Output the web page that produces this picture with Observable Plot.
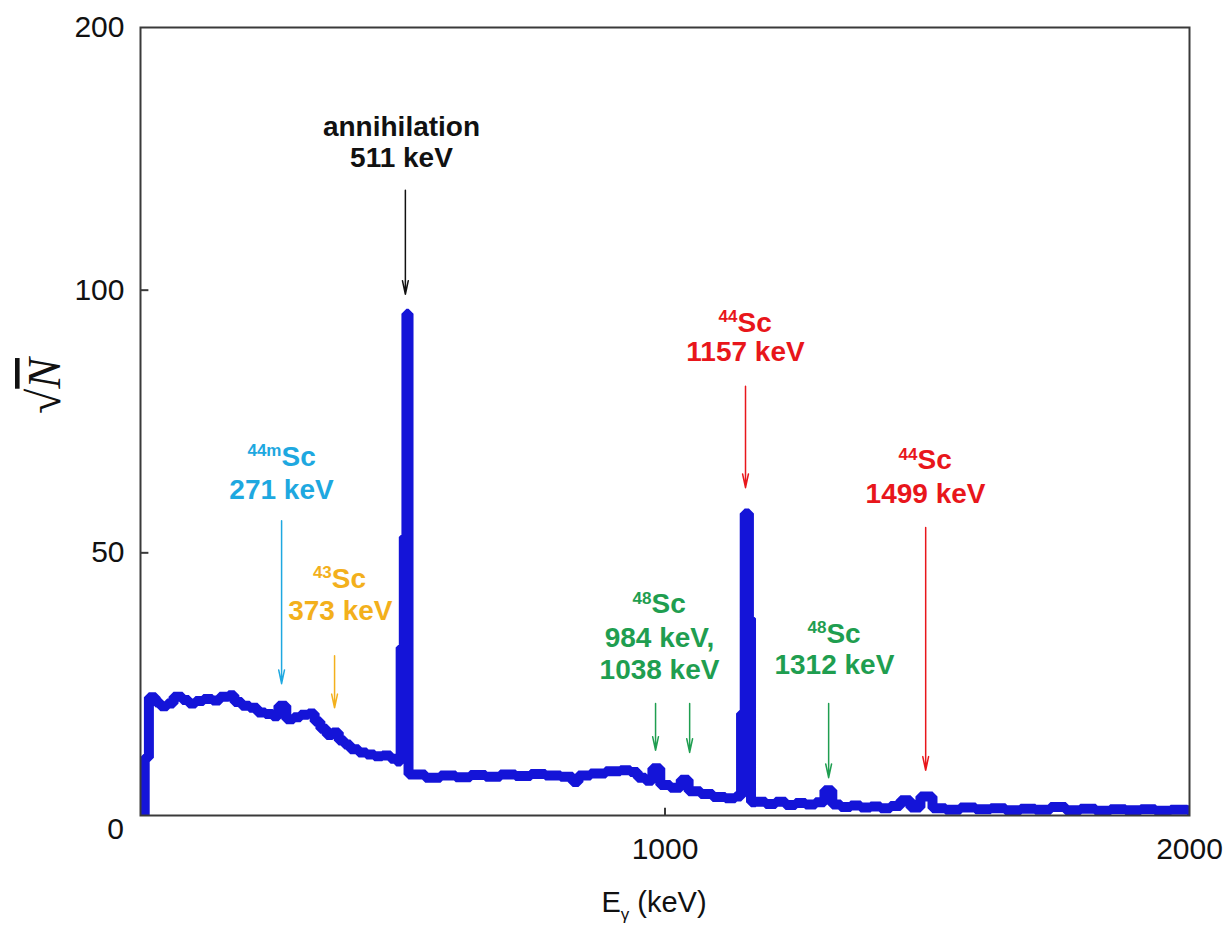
<!DOCTYPE html>
<html>
<head>
<meta charset="utf-8">
<script src="https://cdn.jsdelivr.net/npm/d3@7"></script>
<script src="https://cdn.jsdelivr.net/npm/@observablehq/plot@0.6"></script>
<style>
  body { margin: 0; background: #fff; }
</style>
</head>
<body>
<div id="chart"></div>
<script>
// ---- Spectrum (step breakpoints): gamma energy (keV) and sqrt(N) ----
const energyKeV = [0, 8, 16, 29, 38, 51, 63, 80, 92, 105, 120, 137, 151, 168, 179, 193, 208, 223, 238, 252,
  263, 278, 292, 305, 320, 332, 343, 355, 366, 378, 389, 400, 416, 431, 446, 461, 477, 488, 496, 502,
  507, 511, 543, 572, 601, 629, 658, 686, 715, 744, 772, 801, 824, 835, 858, 887, 915, 934, 948, 963,
  976, 991, 1010, 1030, 1045, 1068, 1091, 1115, 1134, 1145, 1152, 1160, 1164, 1173, 1192, 1211, 1230, 1249, 1268, 1287,
  1304, 1319, 1335, 1354, 1373, 1392, 1411, 1430, 1449, 1468, 1487, 1510, 1535, 1563, 1592, 1621, 1649, 1678, 1706, 1735,
  1764, 1792, 1821, 1849, 1878, 1907, 1935, 1964, 1996, 2000];
const sqrtCounts = [0, 11, 22.5, 21.5, 20.8, 21.3, 22.6, 22.0, 21.3, 21.8, 22.2, 21.9, 22.6, 22.9, 21.6, 20.9, 20.5, 19.6, 19.3, 18.9,
  20.9, 18.3, 18.7, 19.2, 19.4, 17.9, 16.5, 15.3, 15.8, 14.3, 13.5, 12.6, 12.0, 11.6, 11.3, 11.4, 10.8, 10.3, 32, 53,
  95.5, 7.8, 7.2, 7.6, 7.3, 7.7, 7.4, 7.8, 7.5, 7.9, 7.6, 7.4, 6.4, 7.6, 8.0, 8.4, 8.6, 8.3, 7.2, 6.6,
  9.0, 5.8, 5.3, 6.8, 4.6, 4.1, 3.5, 3.3, 3.6, 19.4, 57.5, 37.5, 2.5, 2.6, 2.2, 2.6, 2.0, 2.4, 2.1, 2.5,
  4.8, 2.1, 1.6, 1.9, 1.5, 1.7, 1.4, 1.8, 2.9, 1.5, 3.6, 1.4, 1.1, 1.5, 1.2, 1.4, 1.0, 1.3, 1.1, 1.6,
  1.0, 1.3, 0.9, 1.2, 1.0, 1.2, 0.9, 1.1, 1.0, 1.0];

// ---- Axes (the printed axis is compressed above 100: the top tick reads 200) ----
const xTicks = [1000, 2000];
const yTickPositions = [50, 100, 150];
const yTickLabels = ["50", "100", "200"];

// ---- Annotation arrows (keV, plotted height) ----
const arrowEnergy = [505, 1153.5, 269, 370, 982, 1047, 1312, 1497];
const arrowFrom   = [119.0, 81.7, 56.1, 30.4, 21.3, 21.3, 21.3, 54.8];
const arrowTo     = [99.2, 62.4, 25.1, 20.5, 12.4, 12.0, 7.2, 8.6];
const arrowGroup  = ["ann", "44Sc", "44mSc", "43Sc", "48Sc", "48Sc", "48Sc", "44Sc"];

// ---- Nuclide labels (mass number superscript + "Sc") ----
const nuclideMass   = ["44", "44m", "43", "48", "48", "44"];
const nuclideEnergy = [1153.5, 268.8, 380, 989.5, 1323, 1496.7];
const nuclideHeight = [93.8, 68.3, 45.1, 40.2, 34.6, 67.6];
const nuclideGroup  = ["44Sc", "44mSc", "43Sc", "48Sc", "48Sc", "44Sc"];

// ---- Text lines ----
const lineText   = ["annihilation", "511 keV", "1157 keV", "271 keV", "373 keV", "984 keV,", "1038 keV", "1312 keV", "1499 keV"];
const lineEnergy = [497.6, 497.6, 1153.5, 268.8, 381, 989.5, 989.5, 1323, 1496.7];
const lineHeight = [131.0, 125.1, 88.3, 61.9, 39.0, 33.7, 27.6, 28.6, 61.1];
const lineGroup  = ["ann", "ann", "44Sc", "44mSc", "43Sc", "48Sc", "48Sc", "48Sc", "44Sc"];

const groupColor = {ann: "#111111", "44Sc": "#e8161b", "44mSc": "#1ea8e0", "43Sc": "#f3b01c", "48Sc": "#1f9e50"};

const spectrum = energyKeV.map((e, i) => ({e, n: sqrtCounts[i]}));
const arrows = arrowEnergy.map((e, i) => ({e, from: arrowFrom[i], to: arrowTo[i], c: groupColor[arrowGroup[i]]}));
const nuclides = nuclideMass.map((m, i) => ({m, e: nuclideEnergy[i], h: nuclideHeight[i], c: groupColor[nuclideGroup[i]]}));
const lines = lineText.map((t, i) => ({t, e: lineEnergy[i], h: lineHeight[i], c: groupColor[lineGroup[i]]}));

const font = "'Liberation Sans', Arial, Helvetica, sans-serif";
const axisColor = "#3a3a3a";

const chart = Plot.plot({
  width: 1227,
  height: 925,
  marginLeft: 140,
  marginRight: 38,
  marginTop: 27,
  marginBottom: 110,
  style: {fontFamily: font, background: "white", color: "#111"},
  x: {domain: [0, 2000]},
  y: {domain: [0, 150]},
  marks: [
    Plot.line(spectrum, {x: "e", y: "n", curve: "step-after", stroke: "#1414d8", strokeWidth: 10,
      strokeLinejoin: "miter", strokeLinecap: "butt", clip: true}),
    Plot.frame({stroke: axisColor, strokeWidth: 2}),
    Plot.axisX({ticks: xTicks, tickSize: 0, tickPadding: 22, fontSize: 30, tickFormat: d => `${d}`, label: null}),
    Plot.axisY({ticks: yTickPositions, tickSize: 0, tickPadding: 16, fontSize: 30,
      tickFormat: d => yTickLabels[yTickPositions.indexOf(d)], label: null}),
    Plot.ruleX([1000], {y1: 0, y2: 1.4, stroke: axisColor, strokeWidth: 2}),
    Plot.ruleY([50, 100], {x1: 0, x2: 16, stroke: axisColor, strokeWidth: 2}),
    Plot.text(["0"], {frameAnchor: "bottom-left", dx: -25, dy: 23, fontSize: 30, fill: "#111", textAnchor: "middle"}),
    Plot.arrow(arrows, {x1: "e", y1: "from", x2: "e", y2: "to", stroke: d => d.c, strokeWidth: 1.5, headLength: 14, headAngle: 24}),
    Plot.text(lines, {x: "e", y: "h", text: "t", fill: d => d.c, fontSize: 28, fontWeight: "bold", textAnchor: "middle", lineAnchor: "middle"}),
    // superscript mass numbers (two-digit)
    Plot.text(nuclides.filter(d => d.m.length === 2), {x: "e", y: "h", text: "m", fill: d => d.c, fontSize: 17, fontWeight: "bold",
      textAnchor: "end", lineAnchor: "middle", dx: -8, dy: -6}),
    Plot.text(nuclides.filter(d => d.m.length === 2), {x: "e", y: "h", text: () => "Sc", fill: d => d.c, fontSize: 28, fontWeight: "bold",
      textAnchor: "start", lineAnchor: "middle", dx: -8}),
    // superscript "44m"
    Plot.text(nuclides.filter(d => d.m.length === 3), {x: "e", y: "h", text: "m", fill: d => d.c, fontSize: 17, fontWeight: "bold",
      textAnchor: "end", lineAnchor: "middle", dx: 0, dy: -6}),
    Plot.text(nuclides.filter(d => d.m.length === 3), {x: "e", y: "h", text: () => "Sc", fill: d => d.c, fontSize: 28, fontWeight: "bold",
      textAnchor: "start", lineAnchor: "middle", dx: 0})
  ]
});

const svg = d3.select(chart);
// y-axis label: sqrt(N)
const yl = svg.append("text")
  .attr("transform", "translate(60,386) rotate(-90)")
  .attr("text-anchor", "middle")
  .attr("font-family", "'Liberation Serif', 'DejaVu Serif', serif")
  .attr("font-size", 46)
  .attr("fill", "#111");
yl.append("tspan").text("√");
yl.append("tspan").attr("font-style", "italic").style("text-decoration", "overline").text("N");
// x-axis label: E_gamma (keV)
const xl = svg.append("text")
  .attr("x", 654).attr("y", 912)
  .attr("text-anchor", "middle")
  .attr("font-family", font)
  .attr("font-size", 29)
  .attr("fill", "#111");
xl.append("tspan").text("E");
xl.append("tspan").attr("font-size", 17).attr("dy", 8).text("γ");
xl.append("tspan").attr("dy", -8).text(" (keV)");

document.getElementById("chart").appendChild(chart);
</script>
</body>
</html>
